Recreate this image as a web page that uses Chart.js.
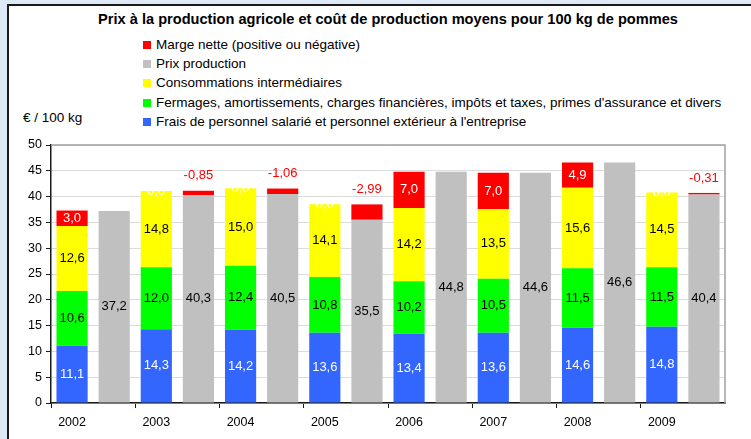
<!DOCTYPE html>
<html lang="fr">
<head>
<meta charset="utf-8">
<title>Prix et coût de production des pommes</title>
<script src="https://cdn.jsdelivr.net/npm/chart.js@4.4.1/dist/chart.umd.min.js"></script>
<style>
  body {
    margin: 0;
    width: 751px;
    height: 439px;
    overflow: hidden;
    background: #dde9f7;
    font-family: "Liberation Sans", Arial, sans-serif;
  }
  #panel {
    position: absolute;
    left: 7px;
    top: 4px;
    width: 800px;
    height: 500px;
    border: 2px solid #1a1a1a;
    background: #fff;
  }
  #chart {
    position: absolute;
    left: 0;
    top: 0;
  }
  .title {
    position: absolute;
    left: 0;
    width: 776px;
    top: 11px;
    text-align: center;
    font-weight: bold;
    font-size: 14.6px;
  }
  .legend {
    position: absolute;
    left: 143px;
    top: 35px;
    margin: 0;
    padding: 0;
    list-style: none;
    font-size: 13.5px;
    line-height: 19.2px;
  }
  .legend span {
    display: inline-block;
    width: 8px;
    height: 8px;
    margin-right: 5px;
  }
  .unit {
    position: absolute;
    left: 23px;
    top: 110px;
    font-size: 13.5px;
  }
</style>
</head>
<body>
<div id="panel"></div>
<div class="title">Prix à la production agricole et coût de production moyens pour 100 kg de pommes</div>
<ul class="legend" id="legend"></ul>
<div class="unit">€ / 100 kg</div>
<canvas id="chart" width="751" height="439"></canvas>
<script>
// valeurs (€ / 100 kg)
const years = ["2002", "2003", "2004", "2005", "2006", "2007", "2008", "2009"];
const fraisPersonnel = [11.1, 14.3, 14.2, 13.6, 13.4, 13.6, 14.6, 14.8];
const fermages = [10.6, 12.0, 12.4, 10.8, 10.2, 10.5, 11.5, 11.5];
const consommations = [12.6, 14.8, 15.0, 14.1, 14.2, 13.5, 15.6, 14.5];
const prixProduction = [37.2, 40.3, 40.5, 35.5, 44.8, 44.6, 46.6, 40.4];
const margeNette = [3.0, -0.85, -1.06, -2.99, 7.0, 7.0, 4.9, -0.31];
const yTicks = [0, 5, 10, 15, 20, 25, 30, 35, 40, 45, 50];

const BLUE = "#3366ff";
const GREEN = "#00ff00";
const YELLOW = "#ffff00";
const GREY = "#c0c0c0";
const RED = "#ff0000";

/** deux barres par année : coût empilé puis prix */
const costBar = (arr) => arr.flatMap((v) => [v, null]);
const priceBar = (arr) => arr.flatMap((v) => [null, v]);
const fmt = (v) => v.toFixed(1).replace(".", ",");

const margeData = margeNette.flatMap((m) => [Math.max(m, 0), Math.max(-m, 0)]);
const margeLabels = margeNette.flatMap((m) => [
  fmt(Math.max(m, 0)),
  m < 0 ? String(m).replace(".", ",") : "",
]);

const legendItems = [
  ["Marge nette (positive ou négative)", RED],
  ["Prix production", GREY],
  ["Consommations intermédiaires", YELLOW],
  ["Fermages, amortissements, charges financières, impôts et taxes, primes d'assurance et divers", GREEN],
  ["Frais de personnel salarié et personnel extérieur à l'entreprise", BLUE],
];
const legend = document.getElementById("legend");
legendItems.forEach(([text, color]) => {
  const li = document.createElement("li");
  li.innerHTML = '<span style="background:' + color + '"></span>' + text;
  legend.appendChild(li);
});

// cadre gris du haut et de droite
const plotFrame = {
  id: "plotFrame",
  beforeDatasetsDraw(chart) {
    const { ctx, chartArea: { left, top, right, bottom } } = chart;
    ctx.save();
    ctx.strokeStyle = "#a0a0a0";
    ctx.lineWidth = 1.5;
    ctx.beginPath();
    ctx.moveTo(left, top);
    ctx.lineTo(right, top);
    ctx.lineTo(right, bottom);
    ctx.stroke();
    ctx.restore();
  },
};

const valueLabels = {
  id: "valueLabels",
  afterDatasetsDraw(chart) {
    const { ctx } = chart;
    ctx.save();
    ctx.font = '13px "Liberation Sans", Arial, sans-serif';
    ctx.textAlign = "center";
    ctx.textBaseline = "middle";
    chart.data.datasets.forEach((ds, di) => {
      chart.getDatasetMeta(di).data.forEach((bar, i) => {
        const v = ds.data[i];
        if (v === null || ds.labels[i] === "") return;
        const { x, y, base } = bar.getProps(["x", "y", "base"], true);
        if (ds.isMarge && i % 2 === 1) {
          ctx.fillStyle = RED;
          ctx.fillText(ds.labels[i], x, y - 15);
          return;
        }
        ctx.fillStyle = ds.labelColor;
        ctx.fillText(ds.labels[i], x, (y + base) / 2);
      });
    });
    ctx.restore();
  },
};

const barBase = {
  stack: "s",
  barPercentage: 0.74,
  categoryPercentage: 1,
  borderWidth: 0,
};

new Chart(document.getElementById("chart").getContext("2d"), {
  type: "bar",
  plugins: [plotFrame, valueLabels],
  data: {
    labels: years.flatMap((y) => [y, ""]),
    datasets: [
      {
        ...barBase,
        label: "Frais de personnel",
        data: costBar(fraisPersonnel),
        labels: costBar(fraisPersonnel).map((v) => (v === null ? "" : fmt(v))),
        backgroundColor: BLUE,
        labelColor: "#fff",
      },
      {
        ...barBase,
        label: "Fermages",
        data: costBar(fermages),
        labels: costBar(fermages).map((v) => (v === null ? "" : fmt(v))),
        backgroundColor: GREEN,
        labelColor: "#000",
      },
      {
        ...barBase,
        label: "Consommations intermédiaires",
        data: costBar(consommations),
        labels: costBar(consommations).map((v) => (v === null ? "" : fmt(v))),
        backgroundColor: YELLOW,
        labelColor: "#000",
      },
      {
        ...barBase,
        label: "Prix production",
        data: priceBar(prixProduction),
        labels: priceBar(prixProduction).map((v) => (v === null ? "" : fmt(v))),
        backgroundColor: GREY,
        labelColor: "#000",
      },
      {
        ...barBase,
        label: "Marge nette",
        data: margeData,
        labels: margeLabels,
        isMarge: true,
        backgroundColor: RED,
        labelColor: "#fff",
      },
    ],
  },
  options: {
    responsive: false,
    animation: false,
    devicePixelRatio: 1,
    layout: { padding: { left: 0, top: 145, right: 26, bottom: 0 } },
    plugins: {
      legend: { display: false },
      tooltip: { enabled: false },
      title: { display: false },
    },
    scales: {
      x: {
        stacked: true,
        afterFit: (scale) => { scale.height = 36; },
        border: { color: "#1a1a1a", width: 1.5 },
        grid: {
          offset: true,
          drawOnChartArea: false,
          tickLength: 5,
          color: (c) => (c.index % 2 === 0 ? "#1a1a1a" : "rgba(0,0,0,0)"),
        },
        ticks: {
          autoSkip: false,
          maxRotation: 0,
          padding: 7,
          color: "#000",
          font: { size: 12.5, family: '"Liberation Sans", Arial, sans-serif' },
        },
      },
      y: {
        stacked: true,
        min: yTicks[0],
        max: yTicks[yTicks.length - 1],
        afterFit: (scale) => { scale.width = 51; },
        afterBuildTicks: (scale) => { scale.ticks = yTicks.map((v) => ({ value: v })); },
        border: { color: "#1a1a1a", width: 1.5 },
        grid: {
          color: "#dcdcdc",
          tickColor: "#1a1a1a",
          tickLength: 5,
        },
        ticks: {
          padding: 4,
          color: "#000",
          font: { size: 12.5, family: '"Liberation Sans", Arial, sans-serif' },
        },
      },
    },
  },
});
</script>
</body>
</html>
